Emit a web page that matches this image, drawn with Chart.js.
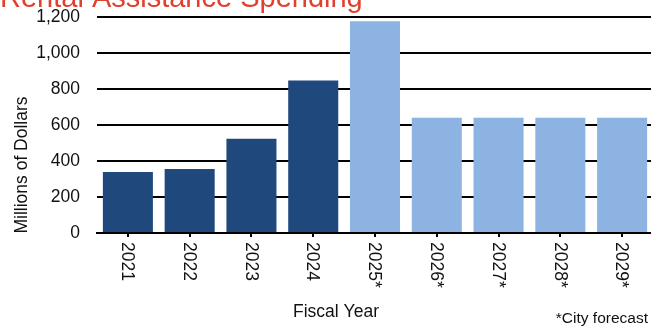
<!DOCTYPE html>
<html>
<head>
<meta charset="utf-8">
<script src="https://cdn.jsdelivr.net/npm/chart.js@4"></script>
<style>
    html, body { margin: 0; padding: 0; background: #fff; overflow: hidden; }
    #wrap { width: 655px; height: 329px; }
</style>
</head>
<body>
<div id="wrap"><canvas id="spendingChart" width="655" height="329"></canvas></div>
<script>
const fiscalYears = ['2021', '2022', '2023', '2024', '2025*', '2026*', '2027*', '2028*', '2029*'];
const spending = [339, 355, 523, 847, 1176, 640, 640, 640, 640];
const isForecast = [false, false, false, false, true, true, true, true, true];
const yTicks = [0, 200, 400, 600, 800, 1000, 1200];

const ACTUAL_COLOR = '#1f497d';
const FORECAST_COLOR = '#8db3e2';
const TITLE_COLOR = '#e0412f';
const TEXT_COLOR = '#111';
const FONT = '"Liberation Sans", Arial, sans-serif';

// title, axis titles, rotated year labels and the footnote
const extraText = {
    id: 'extraText',
    afterDraw(chart) {
        const { ctx, scales: { x } } = chart;
        ctx.save();

        ctx.fillStyle = TITLE_COLOR;
        ctx.font = `29px ${FONT}`;
        ctx.textAlign = 'left';
        ctx.textBaseline = 'alphabetic';
        ctx.fillText('Rental Assistance Spending', 0, 7);

        ctx.fillStyle = TEXT_COLOR;
        ctx.font = `17.5px ${FONT}`;

        ctx.save();
        ctx.translate(26.5, 165);
        ctx.rotate(-Math.PI / 2);
        ctx.textAlign = 'center';
        ctx.fillText('Millions of Dollars', 0, 0);
        ctx.restore();

        fiscalYears.forEach((label, i) => {
            ctx.save();
            ctx.translate(x.getPixelForTick(i) - 1, 242);
            ctx.rotate(Math.PI / 2);
            ctx.textAlign = 'left';
            ctx.textBaseline = 'middle';
            ctx.fillText(label, 0, 0);
            ctx.restore();
        });

        ctx.textAlign = 'center';
        ctx.fillText('Fiscal Year', 336, 317);

        ctx.font = `15.5px ${FONT}`;
        ctx.textAlign = 'right';
        ctx.fillText('*City forecast', 648, 323);

        ctx.restore();
    }
};

new Chart(document.getElementById('spendingChart'), {
    type: 'bar',
    data: {
        labels: fiscalYears,
        datasets: [{
            data: spending,
            backgroundColor: isForecast.map(f => f ? FORECAST_COLOR : ACTUAL_COLOR),
            borderWidth: 0,
            categoryPercentage: 1,
            barPercentage: 0.81
        }]
    },
    options: {
        responsive: false,
        animation: false,
        layout: { padding: { top: 17, right: 2, left: 0, bottom: 0 } },
        plugins: {
            legend: { display: false },
            tooltip: { enabled: false }
        },
        scales: {
            x: {
                afterFit(scale) { scale.height = 96; },
                grid: {
                    offset: false,
                    drawOnChartArea: false,
                    drawTicks: true,
                    tickLength: 4,
                    color: '#000',
                    lineWidth: 2
                },
                border: { display: true, color: '#000', width: 2 },
                ticks: { display: false }
            },
            y: {
                min: 0,
                max: 1200,
                afterFit(scale) {
                    scale.width = 97;
                    scale.paddingTop = 0;
                    scale.paddingBottom = 0;
                },
                afterBuildTicks(scale) { scale.ticks = yTicks.map(v => ({ value: v })); },
                grid: { color: '#000', lineWidth: 2, drawTicks: false },
                border: { display: false },
                ticks: {
                    padding: 17,
                    color: TEXT_COLOR,
                    font: { family: FONT, size: 17.5 },
                    callback: v => v.toLocaleString('en-US')
                }
            }
        }
    },
    plugins: [extraText]
});
</script>
</body>
</html>
